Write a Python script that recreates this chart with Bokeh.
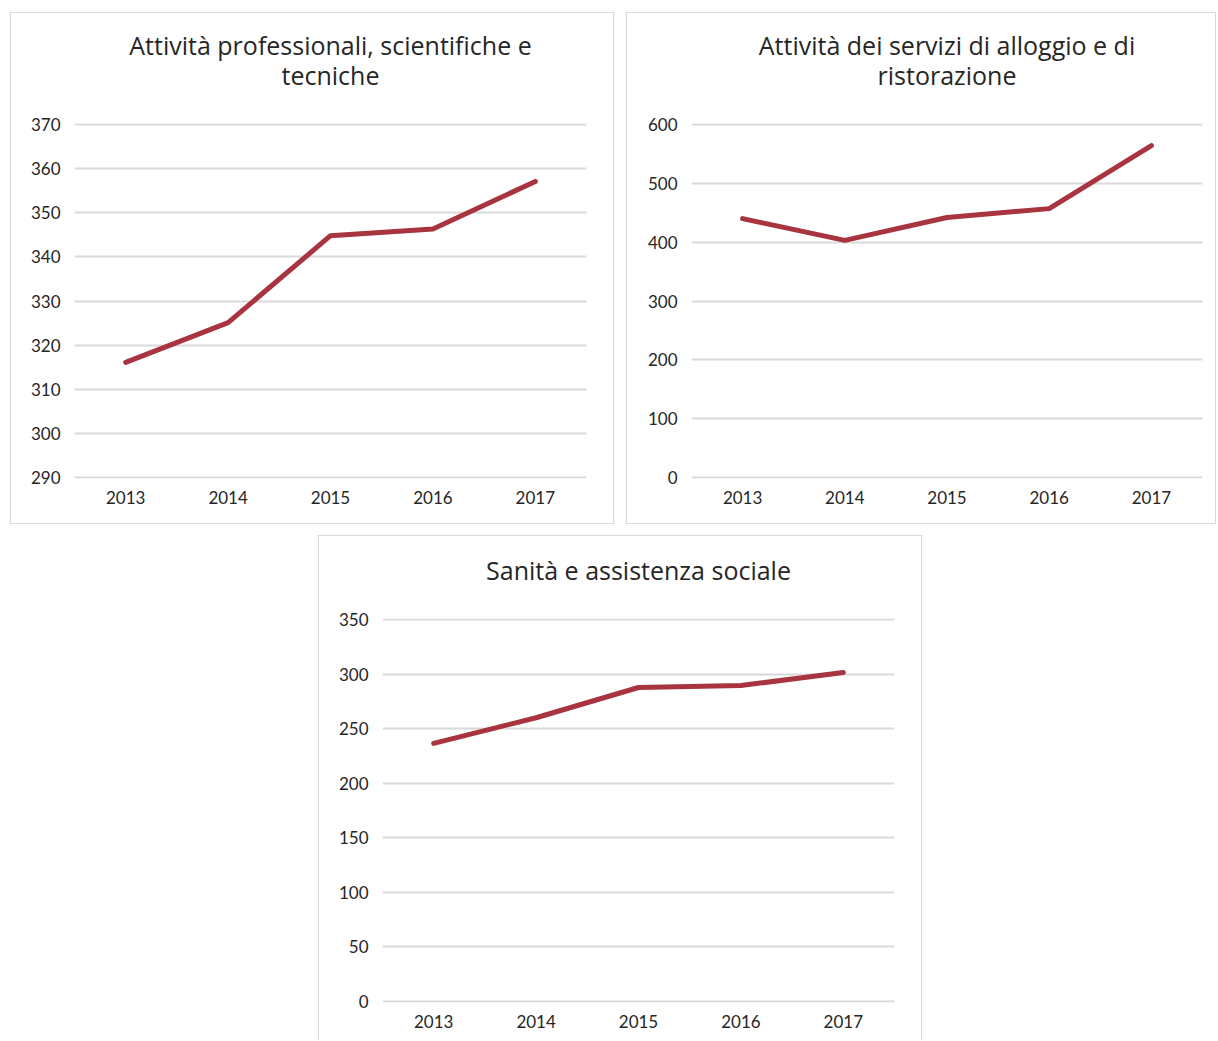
from bokeh.plotting import figure
from bokeh.models import FactorRange, Range1d, SingleIntervalTicker, Title
from bokeh.layouts import column, row
from bokeh.embed import file_html
from bokeh.resources import INLINE

years = ["2013", "2014", "2015", "2016", "2017"]

title_prof = ["Attività professionali, scientifiche e", "tecniche"]
prof_values = [316.1, 325.1, 344.8, 346.3, 357.1]
prof_min, prof_max, prof_step = 290, 370, 10

title_allog = ["Attività dei servizi di alloggio e di", "ristorazione"]
allog_values = [440, 403, 442, 457, 564]
allog_min, allog_max, allog_step = 0, 600, 100

title_san = ["Sanità e assistenza sociale"]
san_values = [236.5, 260, 287.7, 289.5, 301.4]
san_min, san_max, san_step = 0, 350, 50

LINE_COLOR = "#A7343F"
GRID_COLOR = "#D9D9D9"
TEXT_COLOR = "#262626"
FONT = "Lato"
TITLE_FONT = "Open Sans"
LINE_STANDOFF = -6


def spacer(standoff):
    return Title(text=" ", text_font_size="1px", standoff=standoff,
                 text_color="white")


def title_line(text):
    t = Title(text=text, align="center", text_font=TITLE_FONT,
              text_font_size="25px", text_font_style="normal",
              text_color=TEXT_COLOR, standoff=0)
    try:
        t.standoff = LINE_STANDOFF
    except Exception:
        t.standoff = 0
    return t


def make_panel(title_lines, values, vmin, vmax, step, width, height,
               left, right, top, bottom, margin, gap_below, gap_above,
               styles):
    # top/bottom: pixel rows of the highest/lowest gridline inside the panel
    frame_top = top - 1
    frame_bottom = bottom + 1
    frame_h = frame_bottom - frame_top
    pad = (vmax - vmin) / (frame_h - 2)
    p = figure(width=width, height=height, output_backend="svg",
               toolbar_location=None,
               x_range=FactorRange(*years, range_padding=0),
               y_range=Range1d(vmin - pad, vmax + pad),
               min_border_left=left, min_border_right=width - right,
               min_border_top=frame_top,
               min_border_bottom=height - frame_bottom,
               margin=margin, styles=styles)
    p.outline_line_color = None
    p.background_fill_color = "white"
    p.border_fill_color = "white"

    # side panels "above" stack outward from the frame
    p.add_layout(spacer(gap_below), "above")
    for line in reversed(title_lines):
        p.add_layout(title_line(line), "above")
    p.add_layout(spacer(gap_above), "above")

    p.line(x=years, y=values, line_color=LINE_COLOR, line_width=5,
           line_cap="round", line_join="round")

    p.xgrid.visible = False
    p.ygrid.grid_line_color = GRID_COLOR
    p.ygrid.grid_line_width = 2
    p.yaxis.ticker = SingleIntervalTicker(interval=step, num_minor_ticks=0)
    p.ygrid.ticker = p.yaxis.ticker

    for ax in (p.xaxis, p.yaxis):
        ax.axis_line_color = None
        ax.major_tick_line_color = None
        ax.minor_tick_line_color = None
        ax.major_tick_out = 0
        ax.major_tick_in = 0
        ax.major_label_text_font = FONT
        ax.major_label_text_font_size = "17px"
        ax.major_label_text_color = TEXT_COLOR
    p.yaxis.major_label_standoff = 14
    p.xaxis.major_label_standoff = 12
    return p


BORDER = "1px solid #D9D9D9"
full = {"border": BORDER}
open_bottom = {"border-top": BORDER, "border-left": BORDER,
               "border-right": BORDER}

p1 = make_panel(title_prof, prof_values, prof_min, prof_max, prof_step,
                604, 512, 63, 575, 111, 464, (12, 0, 0, 10), 32, 11, full)
p2 = make_panel(title_allog, allog_values, allog_min, allog_max, allog_step,
                590, 512, 64, 575, 111, 464, (12, 0, 0, 12), 32, 11, full)
p3 = make_panel(title_san, san_values, san_min, san_max, san_step,
                604, 505, 63, 575, 83, 465, (11, 0, 0, 318), 32, 13,
                open_bottom)

layout = column(row(p1, p2), p3)

open("out.html", "w").write(file_html(layout, INLINE))
